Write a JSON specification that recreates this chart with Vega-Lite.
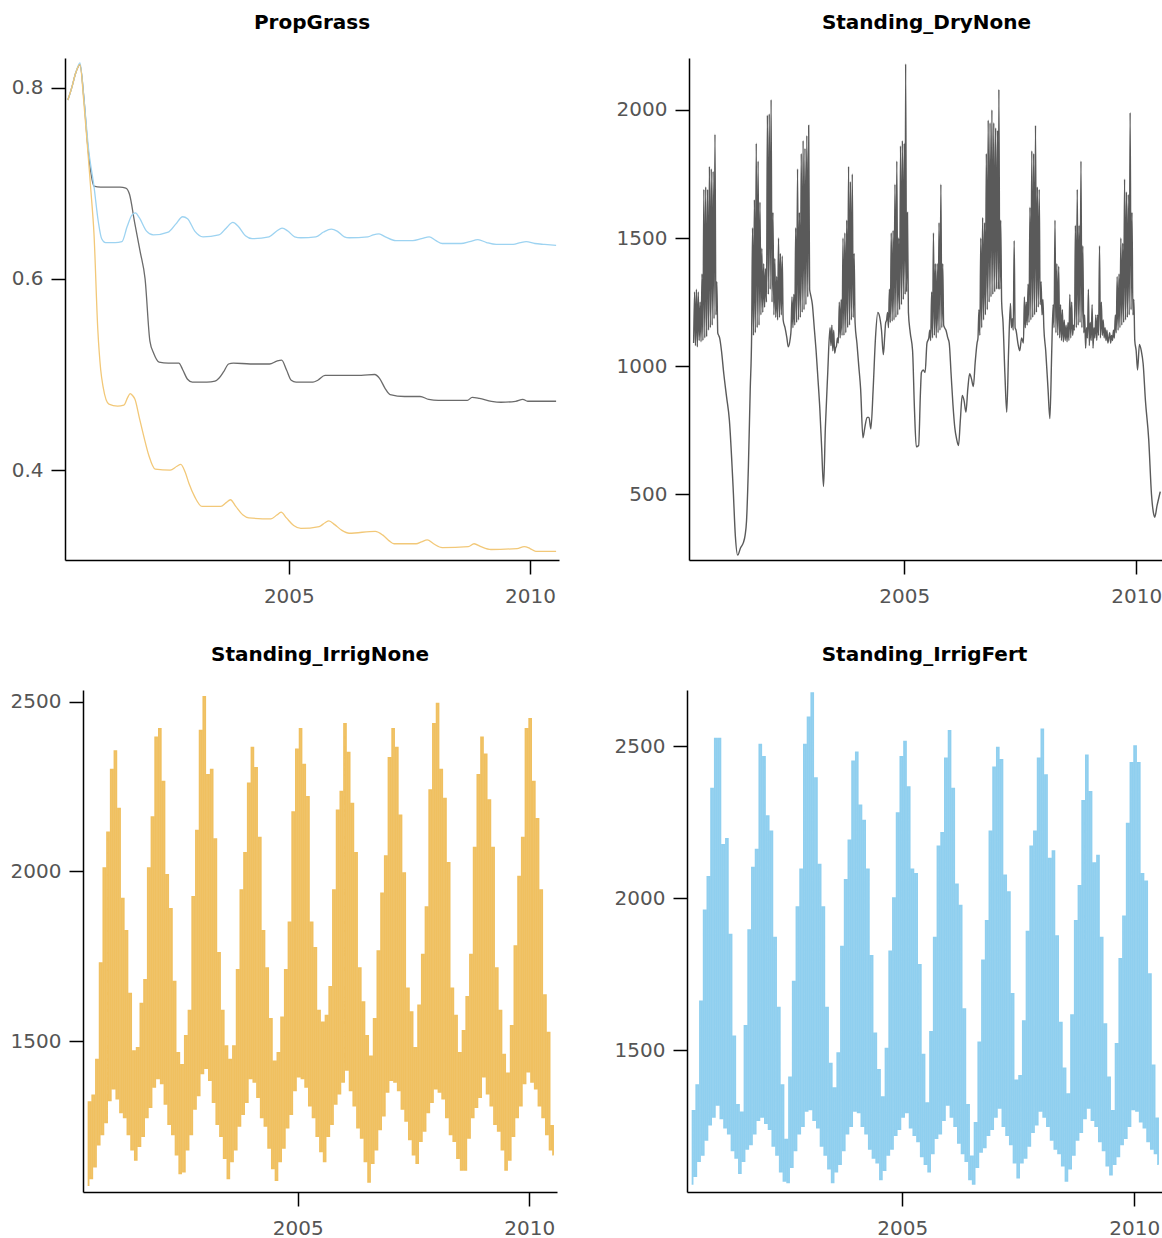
{
"$schema":"https://vega.github.io/schema/vega-lite/v6.json",
"background":"white",
"padding":{"left":10,"top":13,"right":0,"bottom":0},
"config":{"view":{"stroke":null},"axis":{"grid":false,"domainColor":"#000","tickColor":"#000","domainWidth":1.5,"tickWidth":1.5,"tickSize":14,"labelFont":"DejaVu Sans","labelFontSize":20,"labelColor":"#555"},"title":{"font":"DejaVu Sans","fontSize":20,"fontWeight":"bold","color":"#000","frame":"group","offset":25}},
"datasets":{
"prop":[
{"t":2000.42,"v":0.787,"s":"DryNone"},{"t":2000.5,"v":0.8,"s":"DryNone"},{"t":2000.58,"v":0.815,"s":"DryNone"},{"t":2000.67,"v":0.824,"s":"DryNone"},{"t":2000.75,"v":0.79,"s":"DryNone"},{"t":2000.83,"v":0.74,"s":"DryNone"},{"t":2000.9,"v":0.71,"s":"DryNone"},{"t":2000.96,"v":0.697,"s":"DryNone"},{"t":2001.1,"v":0.696,"s":"DryNone"},{"t":2001.3,"v":0.696,"s":"DryNone"},{"t":2001.5,"v":0.696,"s":"DryNone"},{"t":2001.62,"v":0.695,"s":"DryNone"},{"t":2001.7,"v":0.688,"s":"DryNone"},{"t":2001.8,"v":0.66,"s":"DryNone"},{"t":2001.92,"v":0.628,"s":"DryNone"},{"t":2002.02,"v":0.6,"s":"DryNone"},{"t":2002.12,"v":0.535,"s":"DryNone"},{"t":2002.2,"v":0.522,"s":"DryNone"},{"t":2002.31,"v":0.513,"s":"DryNone"},{"t":2002.5,"v":0.512,"s":"DryNone"},{"t":2002.72,"v":0.512,"s":"DryNone"},{"t":2002.8,"v":0.505,"s":"DryNone"},{"t":2002.9,"v":0.495,"s":"DryNone"},{"t":2003.0,"v":0.492,"s":"DryNone"},{"t":2003.3,"v":0.492,"s":"DryNone"},{"t":2003.47,"v":0.493,"s":"DryNone"},{"t":2003.55,"v":0.496,"s":"DryNone"},{"t":2003.65,"v":0.503,"s":"DryNone"},{"t":2003.75,"v":0.511,"s":"DryNone"},{"t":2003.85,"v":0.512,"s":"DryNone"},{"t":2004.2,"v":0.511,"s":"DryNone"},{"t":2004.6,"v":0.511,"s":"DryNone"},{"t":2004.75,"v":0.514,"s":"DryNone"},{"t":2004.85,"v":0.515,"s":"DryNone"},{"t":2004.95,"v":0.505,"s":"DryNone"},{"t":2005.05,"v":0.494,"s":"DryNone"},{"t":2005.15,"v":0.492,"s":"DryNone"},{"t":2005.5,"v":0.492,"s":"DryNone"},{"t":2005.6,"v":0.494,"s":"DryNone"},{"t":2005.75,"v":0.499,"s":"DryNone"},{"t":2006.0,"v":0.499,"s":"DryNone"},{"t":2006.5,"v":0.499,"s":"DryNone"},{"t":2006.78,"v":0.5,"s":"DryNone"},{"t":2006.88,"v":0.496,"s":"DryNone"},{"t":2007.0,"v":0.485,"s":"DryNone"},{"t":2007.1,"v":0.479,"s":"DryNone"},{"t":2007.4,"v":0.477,"s":"DryNone"},{"t":2007.72,"v":0.477,"s":"DryNone"},{"t":2007.9,"v":0.474,"s":"DryNone"},{"t":2008.1,"v":0.473,"s":"DryNone"},{"t":2008.5,"v":0.473,"s":"DryNone"},{"t":2008.7,"v":0.473,"s":"DryNone"},{"t":2008.8,"v":0.476,"s":"DryNone"},{"t":2008.95,"v":0.475,"s":"DryNone"},{"t":2009.2,"v":0.472,"s":"DryNone"},{"t":2009.4,"v":0.471,"s":"DryNone"},{"t":2009.7,"v":0.472,"s":"DryNone"},{"t":2009.85,"v":0.474,"s":"DryNone"},{"t":2009.95,"v":0.472,"s":"DryNone"},{"t":2010.2,"v":0.472,"s":"DryNone"},{"t":2010.54,"v":0.472,"s":"DryNone"},
{"t":2000.42,"v":0.787,"s":"IrrigFert"},{"t":2000.5,"v":0.8,"s":"IrrigFert"},{"t":2000.58,"v":0.815,"s":"IrrigFert"},{"t":2000.67,"v":0.826,"s":"IrrigFert"},{"t":2000.75,"v":0.79,"s":"IrrigFert"},{"t":2000.85,"v":0.735,"s":"IrrigFert"},{"t":2000.96,"v":0.697,"s":"IrrigFert"},{"t":2001.05,"v":0.66,"s":"IrrigFert"},{"t":2001.12,"v":0.642,"s":"IrrigFert"},{"t":2001.2,"v":0.638,"s":"IrrigFert"},{"t":2001.4,"v":0.638,"s":"IrrigFert"},{"t":2001.54,"v":0.639,"s":"IrrigFert"},{"t":2001.65,"v":0.655,"s":"IrrigFert"},{"t":2001.75,"v":0.667,"s":"IrrigFert"},{"t":2001.82,"v":0.669,"s":"IrrigFert"},{"t":2001.9,"v":0.664,"s":"IrrigFert"},{"t":2002.05,"v":0.65,"s":"IrrigFert"},{"t":2002.19,"v":0.646,"s":"IrrigFert"},{"t":2002.5,"v":0.649,"s":"IrrigFert"},{"t":2002.65,"v":0.657,"s":"IrrigFert"},{"t":2002.8,"v":0.665,"s":"IrrigFert"},{"t":2002.9,"v":0.663,"s":"IrrigFert"},{"t":2003.05,"v":0.65,"s":"IrrigFert"},{"t":2003.22,"v":0.644,"s":"IrrigFert"},{"t":2003.55,"v":0.646,"s":"IrrigFert"},{"t":2003.7,"v":0.653,"s":"IrrigFert"},{"t":2003.84,"v":0.659,"s":"IrrigFert"},{"t":2003.95,"v":0.655,"s":"IrrigFert"},{"t":2004.1,"v":0.645,"s":"IrrigFert"},{"t":2004.24,"v":0.642,"s":"IrrigFert"},{"t":2004.59,"v":0.644,"s":"IrrigFert"},{"t":2004.75,"v":0.65,"s":"IrrigFert"},{"t":2004.86,"v":0.653,"s":"IrrigFert"},{"t":2004.98,"v":0.65,"s":"IrrigFert"},{"t":2005.12,"v":0.644,"s":"IrrigFert"},{"t":2005.25,"v":0.643,"s":"IrrigFert"},{"t":2005.56,"v":0.644,"s":"IrrigFert"},{"t":2005.72,"v":0.649,"s":"IrrigFert"},{"t":2005.88,"v":0.652,"s":"IrrigFert"},{"t":2006.0,"v":0.65,"s":"IrrigFert"},{"t":2006.15,"v":0.644,"s":"IrrigFert"},{"t":2006.25,"v":0.643,"s":"IrrigFert"},{"t":2006.64,"v":0.644,"s":"IrrigFert"},{"t":2006.75,"v":0.646,"s":"IrrigFert"},{"t":2006.87,"v":0.647,"s":"IrrigFert"},{"t":2007.0,"v":0.644,"s":"IrrigFert"},{"t":2007.22,"v":0.64,"s":"IrrigFert"},{"t":2007.57,"v":0.64,"s":"IrrigFert"},{"t":2007.75,"v":0.642,"s":"IrrigFert"},{"t":2007.91,"v":0.644,"s":"IrrigFert"},{"t":2008.05,"v":0.64,"s":"IrrigFert"},{"t":2008.18,"v":0.637,"s":"IrrigFert"},{"t":2008.57,"v":0.637,"s":"IrrigFert"},{"t":2008.75,"v":0.639,"s":"IrrigFert"},{"t":2008.92,"v":0.641,"s":"IrrigFert"},{"t":2009.1,"v":0.638,"s":"IrrigFert"},{"t":2009.3,"v":0.636,"s":"IrrigFert"},{"t":2009.65,"v":0.636,"s":"IrrigFert"},{"t":2009.8,"v":0.638,"s":"IrrigFert"},{"t":2009.92,"v":0.639,"s":"IrrigFert"},{"t":2010.1,"v":0.637,"s":"IrrigFert"},{"t":2010.3,"v":0.636,"s":"IrrigFert"},{"t":2010.54,"v":0.635,"s":"IrrigFert"},
{"t":2000.42,"v":0.787,"s":"IrrigNone"},{"t":2000.5,"v":0.8,"s":"IrrigNone"},{"t":2000.58,"v":0.815,"s":"IrrigNone"},{"t":2000.67,"v":0.824,"s":"IrrigNone"},{"t":2000.75,"v":0.785,"s":"IrrigNone"},{"t":2000.84,"v":0.729,"s":"IrrigNone"},{"t":2000.9,"v":0.69,"s":"IrrigNone"},{"t":2000.96,"v":0.648,"s":"IrrigNone"},{"t":2001.04,"v":0.547,"s":"IrrigNone"},{"t":2001.1,"v":0.505,"s":"IrrigNone"},{"t":2001.15,"v":0.487,"s":"IrrigNone"},{"t":2001.27,"v":0.469,"s":"IrrigNone"},{"t":2001.45,"v":0.467,"s":"IrrigNone"},{"t":2001.58,"v":0.468,"s":"IrrigNone"},{"t":2001.66,"v":0.476,"s":"IrrigNone"},{"t":2001.71,"v":0.48,"s":"IrrigNone"},{"t":2001.76,"v":0.478,"s":"IrrigNone"},{"t":2001.81,"v":0.474,"s":"IrrigNone"},{"t":2001.9,"v":0.455,"s":"IrrigNone"},{"t":2002.0,"v":0.434,"s":"IrrigNone"},{"t":2002.1,"v":0.415,"s":"IrrigNone"},{"t":2002.23,"v":0.401,"s":"IrrigNone"},{"t":2002.54,"v":0.4,"s":"IrrigNone"},{"t":2002.68,"v":0.404,"s":"IrrigNone"},{"t":2002.76,"v":0.406,"s":"IrrigNone"},{"t":2002.85,"v":0.398,"s":"IrrigNone"},{"t":2002.93,"v":0.386,"s":"IrrigNone"},{"t":2003.05,"v":0.372,"s":"IrrigNone"},{"t":2003.2,"v":0.362,"s":"IrrigNone"},{"t":2003.59,"v":0.362,"s":"IrrigNone"},{"t":2003.7,"v":0.366,"s":"IrrigNone"},{"t":2003.79,"v":0.369,"s":"IrrigNone"},{"t":2003.9,"v":0.362,"s":"IrrigNone"},{"t":2004.05,"v":0.353,"s":"IrrigNone"},{"t":2004.17,"v":0.35,"s":"IrrigNone"},{"t":2004.63,"v":0.349,"s":"IrrigNone"},{"t":2004.75,"v":0.353,"s":"IrrigNone"},{"t":2004.84,"v":0.356,"s":"IrrigNone"},{"t":2004.95,"v":0.35,"s":"IrrigNone"},{"t":2005.1,"v":0.342,"s":"IrrigNone"},{"t":2005.25,"v":0.339,"s":"IrrigNone"},{"t":2005.63,"v":0.341,"s":"IrrigNone"},{"t":2005.75,"v":0.345,"s":"IrrigNone"},{"t":2005.83,"v":0.347,"s":"IrrigNone"},{"t":2005.95,"v":0.343,"s":"IrrigNone"},{"t":2006.1,"v":0.337,"s":"IrrigNone"},{"t":2006.25,"v":0.334,"s":"IrrigNone"},{"t":2006.79,"v":0.336,"s":"IrrigNone"},{"t":2006.95,"v":0.332,"s":"IrrigNone"},{"t":2007.08,"v":0.326,"s":"IrrigNone"},{"t":2007.18,"v":0.323,"s":"IrrigNone"},{"t":2007.64,"v":0.323,"s":"IrrigNone"},{"t":2007.75,"v":0.325,"s":"IrrigNone"},{"t":2007.87,"v":0.327,"s":"IrrigNone"},{"t":2008.0,"v":0.323,"s":"IrrigNone"},{"t":2008.18,"v":0.319,"s":"IrrigNone"},{"t":2008.72,"v":0.32,"s":"IrrigNone"},{"t":2008.84,"v":0.323,"s":"IrrigNone"},{"t":2008.98,"v":0.32,"s":"IrrigNone"},{"t":2009.19,"v":0.317,"s":"IrrigNone"},{"t":2009.73,"v":0.318,"s":"IrrigNone"},{"t":2009.88,"v":0.32,"s":"IrrigNone"},{"t":2010.0,"v":0.318,"s":"IrrigNone"},{"t":2010.12,"v":0.315,"s":"IrrigNone"},{"t":2010.54,"v":0.315,"s":"IrrigNone"}
],
"dry":[
{"t":2000.46,"v":1090},{"t":2000.48,"v":1290},{"t":2000.5,"v":1080},{"t":2000.52,"v":1300},{"t":2000.54,"v":1075},{"t":2000.56,"v":1290},{"t":2000.58,"v":1100},{"t":2000.6,"v":1250},{"t":2000.62,"v":1095},{"t":2000.64,"v":1360},{"t":2000.66,"v":1100},{"t":2000.68,"v":1690},{"t":2000.7,"v":1110},{"t":2000.72,"v":1700},{"t":2000.74,"v":1115},{"t":2000.76,"v":1690},{"t":2000.78,"v":1140},{"t":2000.8,"v":1780},{"t":2000.82,"v":1150},{"t":2000.84,"v":1770},{"t":2000.86,"v":1160},{"t":2000.88,"v":1760},{"t":2000.9,"v":1185},{"t":2000.92,"v":1905},{"t":2000.94,"v":1200},{"t":2000.96,"v":1330},{"t":2000.98,"v":1130},{"t":2001.0,"v":1120},{"t":2001.02,"v":1110},
{"t":2001.06,"v":1060},{"t":2001.11,"v":970},{"t":2001.17,"v":880},{"t":2001.23,"v":790},{"t":2001.31,"v":530},{"t":2001.36,"v":335},{"t":2001.41,"v":262},{"t":2001.47,"v":290},{"t":2001.53,"v":310},{"t":2001.57,"v":340},{"t":2001.6,"v":395},{"t":2001.64,"v":605},{"t":2001.68,"v":910},{"t":2001.71,"v":1120},
{"t":2001.73,"v":1540},{"t":2001.75,"v":1120},{"t":2001.77,"v":1650},{"t":2001.79,"v":1130},{"t":2001.81,"v":1870},{"t":2001.83,"v":1150},{"t":2001.85,"v":1800},{"t":2001.87,"v":1160},{"t":2001.89,"v":1640},{"t":2001.91,"v":1200},{"t":2001.93,"v":1460},{"t":2001.95,"v":1210},{"t":2001.97,"v":1400},{"t":2001.99,"v":1230},{"t":2002.01,"v":1380},{"t":2002.03,"v":1250},{"t":2002.05,"v":1980},{"t":2002.07,"v":1280},{"t":2002.09,"v":1985},{"t":2002.11,"v":1300},{"t":2002.13,"v":2040},{"t":2002.15,"v":1250},{"t":2002.17,"v":1600},{"t":2002.19,"v":1200},{"t":2002.21,"v":1420},{"t":2002.23,"v":1190},{"t":2002.25,"v":1350},{"t":2002.27,"v":1180},{"t":2002.29,"v":1500},{"t":2002.31,"v":1190},{"t":2002.33,"v":1440},{"t":2002.35,"v":1200},{"t":2002.37,"v":1430},{"t":2002.39,"v":1180},{"t":2002.43,"v":1150},{"t":2002.47,"v":1110},{"t":2002.5,"v":1075},{"t":2002.54,"v":1105},
{"t":2002.56,"v":1140},{"t":2002.58,"v":1270},{"t":2002.6,"v":1150},{"t":2002.62,"v":1280},{"t":2002.64,"v":1160},{"t":2002.66,"v":1540},{"t":2002.68,"v":1170},{"t":2002.7,"v":1770},{"t":2002.72,"v":1180},{"t":2002.74,"v":1600},{"t":2002.76,"v":1190},{"t":2002.78,"v":1830},{"t":2002.8,"v":1210},{"t":2002.82,"v":1880},{"t":2002.84,"v":1220},{"t":2002.86,"v":1850},{"t":2002.88,"v":1240},{"t":2002.9,"v":1900},{"t":2002.92,"v":1270},{"t":2002.94,"v":1940},{"t":2002.96,"v":1300},{"t":2002.98,"v":1280},
{"t":2003.02,"v":1240},{"t":2003.06,"v":1150},{"t":2003.1,"v":1060},{"t":2003.14,"v":950},{"t":2003.18,"v":835},{"t":2003.22,"v":680},{"t":2003.26,"v":530},{"t":2003.3,"v":760},{"t":2003.35,"v":970},{"t":2003.4,"v":1150},
{"t":2003.42,"v":1080},{"t":2003.44,"v":1160},{"t":2003.46,"v":1060},{"t":2003.48,"v":1140},{"t":2003.5,"v":1050},{"t":2003.52,"v":1070},{"t":2003.54,"v":1080},{"t":2003.56,"v":1110},{"t":2003.58,"v":1090},{"t":2003.6,"v":1250},{"t":2003.62,"v":1110},{"t":2003.64,"v":1260},{"t":2003.66,"v":1120},{"t":2003.68,"v":1500},{"t":2003.7,"v":1120},{"t":2003.72,"v":1520},{"t":2003.74,"v":1130},{"t":2003.76,"v":1570},{"t":2003.78,"v":1150},{"t":2003.8,"v":1780},{"t":2003.82,"v":1160},{"t":2003.84,"v":1720},{"t":2003.86,"v":1180},{"t":2003.88,"v":1750},{"t":2003.9,"v":1190},{"t":2003.92,"v":1440},{"t":2003.94,"v":1170},
{"t":2003.98,"v":1090},{"t":2004.02,"v":1000},{"t":2004.06,"v":910},{"t":2004.11,"v":720},{"t":2004.15,"v":760},{"t":2004.2,"v":800},{"t":2004.24,"v":800},{"t":2004.28,"v":755},{"t":2004.33,"v":910},{"t":2004.38,"v":1110},{"t":2004.43,"v":1210},{"t":2004.46,"v":1200},{"t":2004.51,"v":1140},{"t":2004.55,"v":1045},{"t":2004.58,"v":1120},{"t":2004.6,"v":1170},
{"t":2004.62,"v":1180},{"t":2004.64,"v":1210},{"t":2004.66,"v":1150},{"t":2004.68,"v":1300},{"t":2004.7,"v":1170},{"t":2004.72,"v":1520},{"t":2004.74,"v":1175},{"t":2004.76,"v":1530},{"t":2004.78,"v":1180},{"t":2004.8,"v":1710},{"t":2004.82,"v":1190},{"t":2004.84,"v":1800},{"t":2004.86,"v":1200},{"t":2004.88,"v":1500},{"t":2004.9,"v":1220},{"t":2004.92,"v":1860},{"t":2004.94,"v":1240},{"t":2004.96,"v":1880},{"t":2004.98,"v":1260},{"t":2005.0,"v":1870},{"t":2005.02,"v":1280},{"t":2005.03,"v":2180},{"t":2005.05,"v":1290},{"t":2005.07,"v":1600},{"t":2005.09,"v":1210},
{"t":2005.13,"v":1130},{"t":2005.18,"v":1060},{"t":2005.22,"v":835},{"t":2005.26,"v":685},{"t":2005.31,"v":690},{"t":2005.35,"v":900},{"t":2005.37,"v":975},{"t":2005.41,"v":985},{"t":2005.45,"v":975},{"t":2005.49,"v":1090},{"t":2005.53,"v":1110},
{"t":2005.55,"v":1140},{"t":2005.57,"v":1100},{"t":2005.59,"v":1290},{"t":2005.61,"v":1110},{"t":2005.63,"v":1520},{"t":2005.65,"v":1120},{"t":2005.67,"v":1400},{"t":2005.69,"v":1110},{"t":2005.71,"v":1400},{"t":2005.73,"v":1130},{"t":2005.75,"v":1560},{"t":2005.77,"v":1140},{"t":2005.79,"v":1710},{"t":2005.81,"v":1150},{"t":2005.83,"v":1400},{"t":2005.85,"v":1160},{"t":2005.87,"v":1150},{"t":2005.9,"v":1140},
{"t":2005.94,"v":1110},{"t":2005.97,"v":1090},{"t":2006.01,"v":970},{"t":2006.05,"v":850},{"t":2006.09,"v":760},{"t":2006.13,"v":715},{"t":2006.17,"v":690},{"t":2006.21,"v":790},{"t":2006.25,"v":885},{"t":2006.29,"v":865},{"t":2006.33,"v":820},{"t":2006.37,"v":910},{"t":2006.41,"v":970},{"t":2006.45,"v":950},{"t":2006.49,"v":920},{"t":2006.53,"v":1015},{"t":2006.57,"v":1090},
{"t":2006.59,"v":1110},{"t":2006.61,"v":1220},{"t":2006.63,"v":1120},{"t":2006.65,"v":1500},{"t":2006.67,"v":1150},{"t":2006.69,"v":1580},{"t":2006.71,"v":1180},{"t":2006.73,"v":1560},{"t":2006.75,"v":1200},{"t":2006.77,"v":1830},{"t":2006.79,"v":1220},{"t":2006.81,"v":1960},{"t":2006.83,"v":1250},{"t":2006.85,"v":1950},{"t":2006.87,"v":1270},{"t":2006.89,"v":2000},{"t":2006.91,"v":1280},{"t":2006.93,"v":1950},{"t":2006.95,"v":1290},{"t":2006.97,"v":1930},{"t":2006.99,"v":1300},{"t":2007.01,"v":1920},{"t":2007.03,"v":1300},{"t":2007.04,"v":2080},{"t":2007.06,"v":1300},{"t":2007.08,"v":1570},{"t":2007.1,"v":1250},
{"t":2007.13,"v":1170},{"t":2007.17,"v":970},{"t":2007.21,"v":820},{"t":2007.25,"v":1060},{"t":2007.29,"v":1245},{"t":2007.31,"v":1150},{"t":2007.33,"v":1185},{"t":2007.35,"v":1140},{"t":2007.37,"v":1490},{"t":2007.39,"v":1150},{"t":2007.41,"v":1140},{"t":2007.45,"v":1090},{"t":2007.49,"v":1060},{"t":2007.53,"v":1110},{"t":2007.57,"v":1090},
{"t":2007.59,"v":1270},{"t":2007.61,"v":1150},{"t":2007.63,"v":1250},{"t":2007.65,"v":1160},{"t":2007.67,"v":1320},{"t":2007.69,"v":1170},{"t":2007.71,"v":1620},{"t":2007.73,"v":1180},{"t":2007.75,"v":1840},{"t":2007.77,"v":1190},{"t":2007.79,"v":1830},{"t":2007.81,"v":1200},{"t":2007.83,"v":1940},{"t":2007.85,"v":1210},{"t":2007.87,"v":1700},{"t":2007.89,"v":1230},{"t":2007.91,"v":1690},{"t":2007.93,"v":1240},{"t":2007.95,"v":1330},{"t":2007.97,"v":1200},{"t":2007.99,"v":1260},{"t":2008.01,"v":1150},
{"t":2008.05,"v":1060},{"t":2008.1,"v":910},{"t":2008.14,"v":795},{"t":2008.18,"v":1060},{"t":2008.21,"v":1240},
{"t":2008.23,"v":1150},{"t":2008.25,"v":1570},{"t":2008.27,"v":1130},{"t":2008.29,"v":1400},{"t":2008.31,"v":1120},{"t":2008.33,"v":1390},{"t":2008.35,"v":1110},{"t":2008.37,"v":1240},{"t":2008.39,"v":1100},{"t":2008.41,"v":1220},{"t":2008.43,"v":1095},{"t":2008.45,"v":1180},{"t":2008.47,"v":1100},{"t":2008.49,"v":1160},{"t":2008.51,"v":1095},{"t":2008.53,"v":1170},{"t":2008.55,"v":1100},{"t":2008.57,"v":1280},{"t":2008.59,"v":1110},{"t":2008.61,"v":1250},{"t":2008.63,"v":1120},{"t":2008.65,"v":1160},{"t":2008.67,"v":1140},{"t":2008.69,"v":1550},{"t":2008.71,"v":1150},{"t":2008.73,"v":1690},{"t":2008.75,"v":1160},{"t":2008.77,"v":1550},{"t":2008.79,"v":1170},{"t":2008.81,"v":1800},{"t":2008.83,"v":1150},{"t":2008.85,"v":1470},{"t":2008.87,"v":1130},{"t":2008.89,"v":1200},{"t":2008.91,"v":1070},{"t":2008.93,"v":1150},{"t":2008.95,"v":1110},{"t":2008.97,"v":1300},{"t":2008.99,"v":1080},{"t":2009.01,"v":1170},{"t":2009.03,"v":1100},{"t":2009.05,"v":1240},{"t":2009.07,"v":1070},{"t":2009.09,"v":1150},{"t":2009.11,"v":1110},{"t":2009.13,"v":1200},{"t":2009.15,"v":1100},{"t":2009.17,"v":1200},{"t":2009.19,"v":1120},{"t":2009.21,"v":1470},{"t":2009.23,"v":1110},{"t":2009.25,"v":1250},{"t":2009.27,"v":1120},{"t":2009.29,"v":1180},{"t":2009.31,"v":1110},{"t":2009.33,"v":1150},{"t":2009.35,"v":1100},{"t":2009.37,"v":1140},{"t":2009.39,"v":1090},
{"t":2009.41,"v":1110},{"t":2009.43,"v":1130},{"t":2009.45,"v":1090},{"t":2009.47,"v":1120},{"t":2009.49,"v":1100},{"t":2009.51,"v":1140},{"t":2009.53,"v":1110},{"t":2009.55,"v":1200},{"t":2009.57,"v":1130},{"t":2009.59,"v":1350},{"t":2009.61,"v":1140},{"t":2009.63,"v":1360},{"t":2009.65,"v":1150},{"t":2009.67,"v":1500},{"t":2009.69,"v":1160},{"t":2009.71,"v":1480},{"t":2009.73,"v":1170},{"t":2009.75,"v":1730},{"t":2009.77,"v":1180},{"t":2009.79,"v":1680},{"t":2009.81,"v":1190},{"t":2009.83,"v":1670},{"t":2009.85,"v":1200},{"t":2009.87,"v":1990},{"t":2009.89,"v":1220},{"t":2009.91,"v":1600},{"t":2009.93,"v":1200},{"t":2009.95,"v":1260},{"t":2009.97,"v":1100},
{"t":2010.0,"v":1060},{"t":2010.03,"v":985},{"t":2010.07,"v":1085},{"t":2010.11,"v":1060},{"t":2010.15,"v":1010},{"t":2010.2,"v":865},{"t":2010.27,"v":715},{"t":2010.33,"v":500},{"t":2010.38,"v":420},{"t":2010.4,"v":410},{"t":2010.45,"v":455},{"t":2010.52,"v":510}
],
"inone":[
{"t":2000.46,"v":1075},{"t":2000.50,"v":1320},{"t":2000.54,"v":1095},{"t":2000.58,"v":1340},{"t":2000.62,"v":1130},{"t":2000.66,"v":1445},{"t":2000.70,"v":1195},{"t":2000.74,"v":1730},{"t":2000.78,"v":1225},{"t":2000.82,"v":2010},{"t":2000.86,"v":1260},{"t":2000.90,"v":2115},{"t":2000.94,"v":1325},{"t":2000.98,"v":2300},{"t":2001.02,"v":1360},{"t":2001.06,"v":2355},{"t":2001.10,"v":1330},{"t":2001.14,"v":2185},{"t":2001.18,"v":1290},{"t":2001.22,"v":1920},{"t":2001.26,"v":1275},{"t":2001.30,"v":1825},{"t":2001.34,"v":1225},{"t":2001.38,"v":1640},{"t":2001.42,"v":1180},{"t":2001.46,"v":1470},{"t":2001.50,"v":1150},
{"t":2001.54,"v":1480},{"t":2001.58,"v":1190},{"t":2001.62,"v":1610},{"t":2001.66,"v":1220},{"t":2001.70,"v":1680},{"t":2001.74,"v":1275},{"t":2001.78,"v":2010},{"t":2001.82,"v":1305},{"t":2001.86,"v":2160},{"t":2001.90,"v":1365},{"t":2001.94,"v":2395},{"t":2001.98,"v":1390},{"t":2002.02,"v":2420},{"t":2002.06,"v":1375},{"t":2002.10,"v":2265},{"t":2002.14,"v":1315},{"t":2002.18,"v":1990},{"t":2002.22,"v":1255},{"t":2002.26,"v":1890},{"t":2002.30,"v":1225},{"t":2002.34,"v":1675},{"t":2002.38,"v":1165},{"t":2002.42,"v":1465},{"t":2002.46,"v":1110},{"t":2002.50,"v":1430},
{"t":2002.54,"v":1115},{"t":2002.58,"v":1515},{"t":2002.62,"v":1180},{"t":2002.66,"v":1590},{"t":2002.70,"v":1225},{"t":2002.74,"v":1925},{"t":2002.78,"v":1300},{"t":2002.82,"v":2120},{"t":2002.86,"v":1340},{"t":2002.90,"v":2415},{"t":2002.94,"v":1405},{"t":2002.98,"v":2515},{"t":2003.02,"v":1420},{"t":2003.06,"v":2285},{"t":2003.10,"v":1385},{"t":2003.14,"v":2300},{"t":2003.18,"v":1320},{"t":2003.22,"v":2095},{"t":2003.26,"v":1255},{"t":2003.30,"v":1760},{"t":2003.34,"v":1220},{"t":2003.38,"v":1590},{"t":2003.42,"v":1155},{"t":2003.46,"v":1485},{"t":2003.50,"v":1095},
{"t":2003.54,"v":1445},{"t":2003.58,"v":1145},{"t":2003.62,"v":1485},{"t":2003.66,"v":1180},{"t":2003.70,"v":1710},{"t":2003.74,"v":1250},{"t":2003.78,"v":1945},{"t":2003.82,"v":1285},{"t":2003.86,"v":2055},{"t":2003.90,"v":1320},{"t":2003.94,"v":2260},{"t":2003.98,"v":1390},{"t":2004.02,"v":2365},{"t":2004.06,"v":1380},{"t":2004.10,"v":2305},{"t":2004.14,"v":1335},{"t":2004.18,"v":2100},{"t":2004.22,"v":1275},{"t":2004.26,"v":1825},{"t":2004.30,"v":1250},{"t":2004.34,"v":1715},{"t":2004.38,"v":1185},{"t":2004.42,"v":1565},{"t":2004.46,"v":1125},{"t":2004.50,"v":1440},{"t":2004.54,"v":1090},
{"t":2004.58,"v":1465},{"t":2004.62,"v":1145},{"t":2004.66,"v":1570},{"t":2004.70,"v":1185},{"t":2004.74,"v":1710},{"t":2004.78,"v":1245},{"t":2004.82,"v":1850},{"t":2004.86,"v":1285},{"t":2004.90,"v":2175},{"t":2004.94,"v":1355},{"t":2004.98,"v":2360},{"t":2005.02,"v":1395},{"t":2005.06,"v":2420},{"t":2005.10,"v":1390},{"t":2005.14,"v":2315},{"t":2005.18,"v":1365},{"t":2005.22,"v":2220},{"t":2005.26,"v":1310},{"t":2005.30,"v":1850},{"t":2005.34,"v":1275},{"t":2005.38,"v":1775},{"t":2005.42,"v":1220},{"t":2005.46,"v":1590},{"t":2005.50,"v":1175},{"t":2005.54,"v":1555},
{"t":2005.58,"v":1145},{"t":2005.62,"v":1575},{"t":2005.66,"v":1220},{"t":2005.70,"v":1660},{"t":2005.74,"v":1255},{"t":2005.78,"v":1945},{"t":2005.82,"v":1315},{"t":2005.86,"v":2180},{"t":2005.90,"v":1345},{"t":2005.94,"v":2235},{"t":2005.98,"v":1380},{"t":2006.02,"v":2435},{"t":2006.06,"v":1415},{"t":2006.10,"v":2350},{"t":2006.14,"v":1355},{"t":2006.18,"v":2200},{"t":2006.22,"v":1310},{"t":2006.26,"v":2055},{"t":2006.30,"v":1245},{"t":2006.34,"v":1715},{"t":2006.38,"v":1215},{"t":2006.42,"v":1615},{"t":2006.46,"v":1145},{"t":2006.50,"v":1515},{"t":2006.54,"v":1085},
{"t":2006.58,"v":1455},{"t":2006.62,"v":1140},{"t":2006.66,"v":1565},{"t":2006.70,"v":1180},{"t":2006.74,"v":1765},{"t":2006.78,"v":1240},{"t":2006.82,"v":1935},{"t":2006.86,"v":1280},{"t":2006.90,"v":2045},{"t":2006.94,"v":1350},{"t":2006.98,"v":2335},{"t":2007.02,"v":1385},{"t":2007.06,"v":2420},{"t":2007.10,"v":1380},{"t":2007.14,"v":2365},{"t":2007.18,"v":1355},{"t":2007.22,"v":2165},{"t":2007.26,"v":1300},{"t":2007.30,"v":1995},{"t":2007.34,"v":1265},{"t":2007.38,"v":1655},{"t":2007.42,"v":1210},{"t":2007.46,"v":1585},{"t":2007.50,"v":1165},{"t":2007.54,"v":1480},
{"t":2007.58,"v":1140},{"t":2007.62,"v":1605},{"t":2007.66,"v":1205},{"t":2007.70,"v":1755},{"t":2007.74,"v":1235},{"t":2007.78,"v":1895},{"t":2007.82,"v":1290},{"t":2007.86,"v":2240},{"t":2007.90,"v":1320},{"t":2007.94,"v":2435},{"t":2007.98,"v":1360},{"t":2008.02,"v":2495},{"t":2008.06,"v":1350},{"t":2008.10,"v":2300},{"t":2008.14,"v":1330},{"t":2008.18,"v":2215},{"t":2008.22,"v":1275},{"t":2008.26,"v":2025},{"t":2008.30,"v":1225},{"t":2008.34,"v":1655},{"t":2008.38,"v":1205},{"t":2008.42,"v":1575},{"t":2008.46,"v":1155},{"t":2008.50,"v":1465},
{"t":2008.54,"v":1120},{"t":2008.58,"v":1530},{"t":2008.62,"v":1120},{"t":2008.66,"v":1630},{"t":2008.70,"v":1215},{"t":2008.74,"v":1755},{"t":2008.78,"v":1275},{"t":2008.82,"v":2070},{"t":2008.86,"v":1305},{"t":2008.90,"v":2285},{"t":2008.94,"v":1335},{"t":2008.98,"v":2395},{"t":2009.02,"v":1395},{"t":2009.06,"v":2345},{"t":2009.10,"v":1345},{"t":2009.14,"v":2210},{"t":2009.18,"v":1310},{"t":2009.22,"v":2070},{"t":2009.26,"v":1255},{"t":2009.30,"v":1715},{"t":2009.34,"v":1235},{"t":2009.38,"v":1590},{"t":2009.42,"v":1180},{"t":2009.46,"v":1460},{"t":2009.50,"v":1120},
{"t":2009.54,"v":1405},{"t":2009.58,"v":1150},{"t":2009.62,"v":1545},{"t":2009.66,"v":1220},{"t":2009.70,"v":1780},{"t":2009.74,"v":1275},{"t":2009.78,"v":1985},{"t":2009.82,"v":1310},{"t":2009.86,"v":2100},{"t":2009.90,"v":1375},{"t":2009.94,"v":2420},{"t":2009.98,"v":1410},{"t":2010.02,"v":2450},{"t":2010.06,"v":1380},{"t":2010.10,"v":2265},{"t":2010.14,"v":1360},{"t":2010.18,"v":2155},{"t":2010.22,"v":1310},{"t":2010.26,"v":1945},{"t":2010.30,"v":1275},{"t":2010.34,"v":1635},{"t":2010.38,"v":1225},{"t":2010.42,"v":1525},{"t":2010.46,"v":1180},{"t":2010.50,"v":1250},{"t":2010.53,"v":1165}
],
"ifert":[
{"t":2000.46,"v":1060},{"t":2000.50,"v":1300},{"t":2000.54,"v":1085},{"t":2000.58,"v":1385},{"t":2000.62,"v":1135},{"t":2000.66,"v":1660},{"t":2000.70,"v":1155},{"t":2000.74,"v":1960},{"t":2000.78,"v":1205},{"t":2000.82,"v":2070},{"t":2000.86,"v":1255},{"t":2000.90,"v":2360},{"t":2000.94,"v":1280},{"t":2000.98,"v":2525},{"t":2001.02,"v":1320},{"t":2001.06,"v":2525},{"t":2001.10,"v":1275},{"t":2001.14,"v":2175},{"t":2001.18,"v":1245},{"t":2001.22,"v":2195},{"t":2001.26,"v":1225},{"t":2001.30,"v":1880},{"t":2001.34,"v":1170},{"t":2001.38,"v":1545},{"t":2001.42,"v":1145},{"t":2001.46,"v":1320},{"t":2001.50,"v":1095},
{"t":2001.54,"v":1295},{"t":2001.58,"v":1135},{"t":2001.62,"v":1580},{"t":2001.66,"v":1175},{"t":2001.70,"v":1895},{"t":2001.74,"v":1190},{"t":2001.78,"v":2100},{"t":2001.82,"v":1225},{"t":2001.86,"v":2160},{"t":2001.90,"v":1270},{"t":2001.94,"v":2505},{"t":2001.98,"v":1280},{"t":2002.02,"v":2465},{"t":2002.06,"v":1260},{"t":2002.10,"v":2270},{"t":2002.14,"v":1240},{"t":2002.18,"v":2220},{"t":2002.22,"v":1185},{"t":2002.26,"v":1870},{"t":2002.30,"v":1155},{"t":2002.34,"v":1640},{"t":2002.38,"v":1100},{"t":2002.42,"v":1385},{"t":2002.46,"v":1070},{"t":2002.50,"v":1205},
{"t":2002.54,"v":1065},{"t":2002.58,"v":1410},{"t":2002.62,"v":1115},{"t":2002.66,"v":1725},{"t":2002.70,"v":1170},{"t":2002.74,"v":1970},{"t":2002.78,"v":1225},{"t":2002.82,"v":2095},{"t":2002.86,"v":1250},{"t":2002.90,"v":2505},{"t":2002.94,"v":1300},{"t":2002.98,"v":2595},{"t":2003.02,"v":1305},{"t":2003.06,"v":2675},{"t":2003.10,"v":1270},{"t":2003.14,"v":2395},{"t":2003.18,"v":1245},{"t":2003.22,"v":2110},{"t":2003.26,"v":1185},{"t":2003.30,"v":1970},{"t":2003.34,"v":1155},{"t":2003.38,"v":1640},{"t":2003.42,"v":1110},{"t":2003.46,"v":1455},{"t":2003.50,"v":1065},
{"t":2003.54,"v":1375},{"t":2003.58,"v":1100},{"t":2003.62,"v":1490},{"t":2003.66,"v":1125},{"t":2003.70,"v":1840},{"t":2003.74,"v":1170},{"t":2003.78,"v":2060},{"t":2003.82,"v":1225},{"t":2003.86,"v":2190},{"t":2003.90,"v":1250},{"t":2003.94,"v":2450},{"t":2003.98,"v":1300},{"t":2004.02,"v":2480},{"t":2004.06,"v":1295},{"t":2004.10,"v":2305},{"t":2004.14,"v":1250},{"t":2004.18,"v":2255},{"t":2004.22,"v":1225},{"t":2004.26,"v":2095},{"t":2004.30,"v":1175},{"t":2004.34,"v":1810},{"t":2004.38,"v":1145},{"t":2004.42,"v":1555},{"t":2004.46,"v":1130},{"t":2004.50,"v":1435},{"t":2004.54,"v":1075},
{"t":2004.58,"v":1345},{"t":2004.62,"v":1105},{"t":2004.66,"v":1505},{"t":2004.70,"v":1155},{"t":2004.74,"v":1825},{"t":2004.78,"v":1175},{"t":2004.82,"v":2000},{"t":2004.86,"v":1220},{"t":2004.90,"v":2280},{"t":2004.94,"v":1240},{"t":2004.98,"v":2465},{"t":2005.02,"v":1280},{"t":2005.06,"v":2515},{"t":2005.10,"v":1295},{"t":2005.14,"v":2365},{"t":2005.18,"v":1245},{"t":2005.22,"v":2095},{"t":2005.26,"v":1220},{"t":2005.30,"v":2080},{"t":2005.34,"v":1200},{"t":2005.38,"v":1780},{"t":2005.42,"v":1150},{"t":2005.46,"v":1485},{"t":2005.50,"v":1125},{"t":2005.54,"v":1325},
{"t":2005.58,"v":1100},{"t":2005.62,"v":1560},{"t":2005.66,"v":1160},{"t":2005.70,"v":1870},{"t":2005.74,"v":1210},{"t":2005.78,"v":2170},{"t":2005.82,"v":1225},{"t":2005.86,"v":2215},{"t":2005.90,"v":1270},{"t":2005.94,"v":2460},{"t":2005.98,"v":1320},{"t":2006.02,"v":2550},{"t":2006.06,"v":1280},{"t":2006.10,"v":2360},{"t":2006.14,"v":1250},{"t":2006.18,"v":2045},{"t":2006.22,"v":1195},{"t":2006.26,"v":1975},{"t":2006.30,"v":1160},{"t":2006.34,"v":1635},{"t":2006.38,"v":1135},{"t":2006.42,"v":1320},{"t":2006.46,"v":1075},{"t":2006.50,"v":1150},
{"t":2006.54,"v":1060},{"t":2006.58,"v":1260},{"t":2006.62,"v":1115},{"t":2006.66,"v":1525},{"t":2006.70,"v":1165},{"t":2006.74,"v":1795},{"t":2006.78,"v":1180},{"t":2006.82,"v":1925},{"t":2006.86,"v":1220},{"t":2006.90,"v":2220},{"t":2006.94,"v":1240},{"t":2006.98,"v":2430},{"t":2007.02,"v":1280},{"t":2007.06,"v":2495},{"t":2007.10,"v":1310},{"t":2007.14,"v":2455},{"t":2007.18,"v":1250},{"t":2007.22,"v":2075},{"t":2007.26,"v":1220},{"t":2007.30,"v":2020},{"t":2007.34,"v":1190},{"t":2007.38,"v":1685},{"t":2007.42,"v":1130},{"t":2007.46,"v":1400},{"t":2007.50,"v":1080},
{"t":2007.54,"v":1415},{"t":2007.58,"v":1130},{"t":2007.62,"v":1595},{"t":2007.66,"v":1145},{"t":2007.70,"v":1890},{"t":2007.74,"v":1185},{"t":2007.78,"v":2170},{"t":2007.82,"v":1230},{"t":2007.86,"v":2220},{"t":2007.90,"v":1255},{"t":2007.94,"v":2460},{"t":2007.98,"v":1300},{"t":2008.02,"v":2555},{"t":2008.06,"v":1280},{"t":2008.10,"v":2405},{"t":2008.14,"v":1250},{"t":2008.18,"v":2130},{"t":2008.22,"v":1205},{"t":2008.26,"v":2155},{"t":2008.30,"v":1175},{"t":2008.34,"v":1875},{"t":2008.38,"v":1160},{"t":2008.42,"v":1590},{"t":2008.46,"v":1120},{"t":2008.50,"v":1440},{"t":2008.54,"v":1070},
{"t":2008.58,"v":1355},{"t":2008.62,"v":1110},{"t":2008.66,"v":1615},{"t":2008.70,"v":1155},{"t":2008.74,"v":1925},{"t":2008.78,"v":1205},{"t":2008.82,"v":2040},{"t":2008.86,"v":1230},{"t":2008.90,"v":2320},{"t":2008.94,"v":1275},{"t":2008.98,"v":2470},{"t":2009.02,"v":1310},{"t":2009.06,"v":2350},{"t":2009.10,"v":1270},{"t":2009.14,"v":2115},{"t":2009.18,"v":1250},{"t":2009.22,"v":2140},{"t":2009.26,"v":1200},{"t":2009.30,"v":1870},{"t":2009.34,"v":1170},{"t":2009.38,"v":1585},{"t":2009.42,"v":1120},{"t":2009.46,"v":1410},{"t":2009.50,"v":1090},
{"t":2009.54,"v":1300},{"t":2009.58,"v":1125},{"t":2009.62,"v":1520},{"t":2009.66,"v":1150},{"t":2009.70,"v":1800},{"t":2009.74,"v":1190},{"t":2009.78,"v":1940},{"t":2009.82,"v":1210},{"t":2009.86,"v":2245},{"t":2009.90,"v":1250},{"t":2009.94,"v":2445},{"t":2009.98,"v":1305},{"t":2010.02,"v":2500},{"t":2010.06,"v":1300},{"t":2010.10,"v":2445},{"t":2010.14,"v":1265},{"t":2010.18,"v":2080},{"t":2010.22,"v":1245},{"t":2010.26,"v":2055},{"t":2010.30,"v":1200},{"t":2010.34,"v":1750},{"t":2010.38,"v":1175},{"t":2010.42,"v":1450},{"t":2010.46,"v":1160},{"t":2010.50,"v":1275},{"t":2010.53,"v":1125}
]
},
"spacing":39,
"vconcat":[
{"spacing":57,"hconcat":[
{"title":"PropGrass","width":494,"height":502,"data":{"name":"prop"},
"mark":{"type":"line","strokeWidth":1.3,"interpolate":"monotone","clip":true},
"encoding":{
"x":{"field":"t","type":"quantitative","scale":{"domain":[2000.36,2010.6],"nice":false,"zero":false},"axis":{"title":null,"values":[2005,2010],"format":"d","labelPadding":12}},
"y":{"field":"v","type":"quantitative","scale":{"domain":[0.306,0.831],"nice":false,"zero":false},"axis":{"title":null,"values":[0.4,0.6,0.8],"format":".1f","labelPadding":8}},
"color":{"field":"s","type":"nominal","scale":{"domain":["DryNone","IrrigFert","IrrigNone"],"range":["#6b6b6b","#9dd3f1","#f2c878"]},"legend":null}}},
{"title":"Standing_DryNone","width":475,"height":502,"data":{"name":"dry"},
"mark":{"type":"line","strokeWidth":1.4,"interpolate":"monotone","color":"#5a5a5a","clip":true},
"encoding":{
"x":{"field":"t","type":"quantitative","scale":{"domain":[2000.36,2010.6],"nice":false,"zero":false},"axis":{"title":null,"values":[2005,2010],"format":"d","labelPadding":12}},
"y":{"field":"v","type":"quantitative","scale":{"domain":[243,2203],"nice":false,"zero":false},"axis":{"title":null,"values":[500,1000,1500,2000],"format":"d","labelPadding":8}}}}
]},
{"spacing":57,"hconcat":[
{"spacing":-59,"hconcat":[
{"width":1,"height":502,"data":{"values":[{"a":1}]},"mark":{"type":"point","opacity":0},"encoding":{}},
{"title":"Standing_IrrigNone","width":474,"height":502,"data":{"name":"inone"},
"mark":{"type":"line","strokeWidth":1.8,"interpolate":"step","color":"#f0c060","clip":true},
"encoding":{
"x":{"field":"t","type":"quantitative","scale":{"domain":[2000.36,2010.6],"nice":false,"zero":false},"axis":{"title":null,"values":[2005,2010],"format":"d","labelPadding":12}},
"y":{"field":"v","type":"quantitative","scale":{"domain":[1055,2535],"nice":false,"zero":false},"axis":{"title":null,"values":[1500,2000,2500],"format":"d","labelPadding":8}}}}
]},
{"title":"Standing_IrrigFert","width":475,"height":502,"data":{"name":"ifert"},
"mark":{"type":"line","strokeWidth":1.8,"interpolate":"step","color":"#8fcfef","clip":true},
"encoding":{
"x":{"field":"t","type":"quantitative","scale":{"domain":[2000.36,2010.6],"nice":false,"zero":false},"axis":{"title":null,"values":[2005,2010],"format":"d","labelPadding":12}},
"y":{"field":"v","type":"quantitative","scale":{"domain":[1033,2685],"nice":false,"zero":false},"axis":{"title":null,"values":[1500,2000,2500],"format":"d","labelPadding":8}}}}
]}
]
}
